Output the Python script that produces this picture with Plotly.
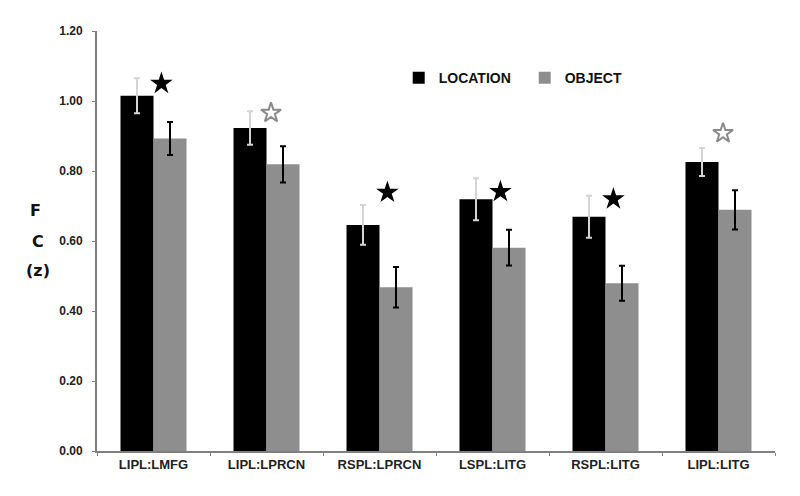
import plotly.graph_objects as go

categories = ["LIPL:LMFG", "LIPL:LPRCN", "RSPL:LPRCN", "LSPL:LITG", "RSPL:LITG", "LIPL:LITG"]
location = [1.015, 0.923, 0.646, 0.719, 0.669, 0.826]
location_err = [0.050, 0.048, 0.057, 0.060, 0.060, 0.040]
obj = [0.893, 0.819, 0.468, 0.581, 0.479, 0.689]
obj_err = [0.047, 0.052, 0.058, 0.051, 0.050, 0.056]
# significance stars: level (value) and type (True = filled)
star_level = [1.050, 0.966, 0.739, 0.741, 0.720, 0.908]
star_filled = [True, False, True, True, True, False]

BOLD = dict(family="Liberation Sans, Arial, sans-serif", weight="bold")

fig = go.Figure()
fig.add_trace(go.Bar(
    x=categories, y=location, name="LOCATION",
    marker=dict(color="#000000", line=dict(width=0)),
    error_y=dict(type="data", array=location_err, color="#d4d4d4", thickness=2, width=3),
))
fig.add_trace(go.Bar(
    x=categories, y=obj, name="OBJECT",
    marker=dict(color="#8e8e8e", line=dict(width=0)),
    error_y=dict(type="data", array=obj_err, color="#000000", thickness=2, width=3),
))

idx = list(range(len(categories)))
fx = [i + 0.07 for i in idx if star_filled[i]]
fy = [star_level[i] for i in idx if star_filled[i]]
ox = [i + 0.04 for i in idx if not star_filled[i]]
oy = [star_level[i] for i in idx if not star_filled[i]]
fig.add_trace(go.Scatter(
    x=fx, y=fy, xaxis="x2", mode="markers", showlegend=False, hoverinfo="skip",
    marker=dict(symbol="star", size=17, color="#000000", line=dict(width=0)),
))
fig.add_trace(go.Scatter(
    x=ox, y=oy, xaxis="x2", mode="markers", showlegend=False, hoverinfo="skip",
    marker=dict(symbol="star-open", size=15, color="#8a8a8a", line=dict(width=2, color="#8a8a8a")),
))

# page body adds an 8px offset; figure sized to compensate
fig.update_layout(
    width=792, height=488,
    margin=dict(l=89, r=25, t=23, b=45),
    paper_bgcolor="white", plot_bgcolor="white",
    barmode="group", bargap=0.416, bargroupgap=0,
    showlegend=True,
    legend=dict(
        orientation="h", x=0.445, y=0.888, xanchor="left", yanchor="middle",
        font=dict(size=14, color="#111111", **BOLD),
        bgcolor="rgba(0,0,0,0)", itemwidth=30,
        entrywidth=81, entrywidthmode="pixels",
    ),
    xaxis=dict(
        type="category", range=[-0.5, 5.5],
        showline=True, linecolor="#7f7f7f", linewidth=2,
        ticks="outside", tickson="boundaries", ticklen=3, tickcolor="#7f7f7f", tickwidth=1,
        tickfont=dict(size=13, color="#222222", **BOLD),
        showgrid=False, zeroline=False,
    ),
    xaxis2=dict(overlaying="x", range=[-0.5, 5.5], visible=False, showgrid=False, zeroline=False),
    yaxis=dict(
        range=[0, 1.2], dtick=0.2, tickformat=".2f",
        showline=True, linecolor="#7f7f7f", linewidth=2,
        ticks="outside", ticklen=3, tickcolor="#7f7f7f", tickwidth=1,
        ticklabelstandoff=7,
        tickfont=dict(size=12, color="#222222", **BOLD),
        showgrid=False, zeroline=False,
    ),
    font=dict(family="Liberation Sans, Arial, sans-serif"),
)

for txt, yy, xx in [("F", 210, 35), ("C", 241, 38), ("(z)", 270, 38)]:
    fig.add_annotation(
        text=txt, xref="paper", yref="paper",
        x=(xx - 97) / 678, y=(451 - yy) / 420,
        xanchor="center", yanchor="middle", showarrow=False,
        font=dict(size=16, color="#111111", family="DejaVu Sans, Verdana, sans-serif", weight="bold"),
    )

fig.write_html("out.html")
